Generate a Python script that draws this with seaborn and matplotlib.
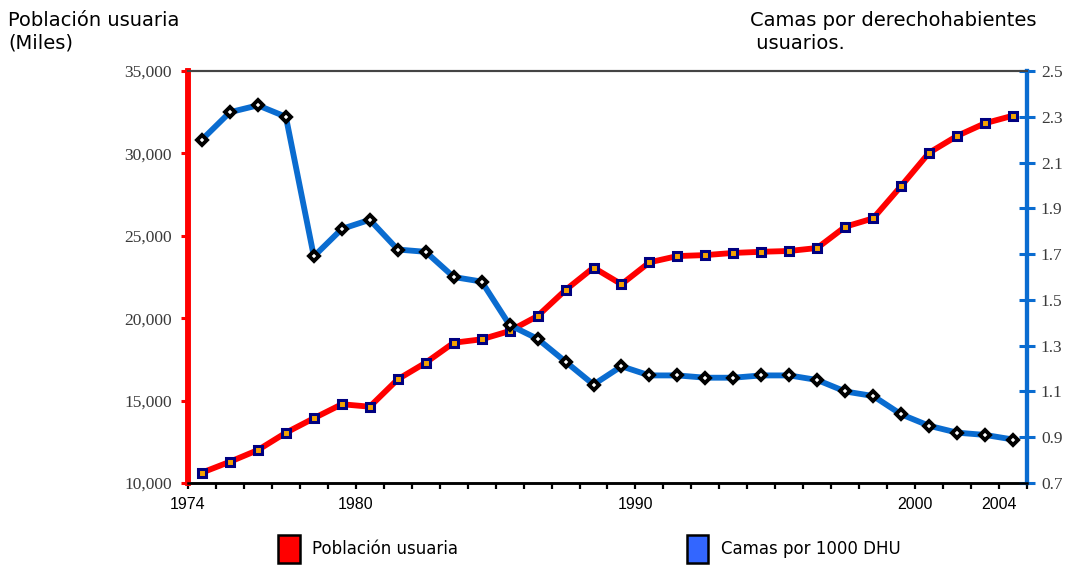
import numpy as np
import pandas as pd
import seaborn as sns
import matplotlib.pyplot as plt
from matplotlib.patches import Patch

# Data
years = list(range(1974, 2004))
poblacion = [10630, 11290, 12000, 13050, 13930, 14780, 14630, 16290, 17300, 18510,
             18720, 19220, 20130, 21710, 23070, 22060, 23390, 23770, 23830, 23960,
             24030, 24080, 24260, 25550, 26060, 28020, 30040, 31060, 31830, 32290]
camas = [2.20, 2.32, 2.35, 2.30, 1.69, 1.81, 1.85, 1.72, 1.71, 1.60,
         1.58, 1.39, 1.33, 1.23, 1.13, 1.21, 1.17, 1.17, 1.16, 1.16,
         1.17, 1.17, 1.15, 1.10, 1.08, 1.00, 0.95, 0.92, 0.91, 0.89]
year_labels = ['1974', '1980', '1990', '2000', '2004']
label_pos = [1973.5, 1979.5, 1989.5, 1999.5, 2002.5]

df = pd.DataFrame({'year': years, 'poblacion': poblacion, 'camas': camas})

sns.set_style('white')
plt.rcParams['font.family'] = ['Liberation Sans', 'DejaVu Sans']
plt.rcParams['text.color'] = 'black'

fig = plt.figure(figsize=(10.70, 5.69), dpi=100)
ax = fig.add_axes([188 / 1070, 1 - 483 / 569, (1027 - 188) / 1070, (483 - 71) / 569])
ax2 = ax.twinx()

red = '#ff0000'
blue = '#0a6cd0'

sns.lineplot(data=df, x='year', y='poblacion', ax=ax, color=red, linewidth=4.2,
             marker='s', markersize=5.5, markerfacecolor='#f5a300',
             markeredgecolor='#000080', markeredgewidth=2.2, zorder=3)
sns.lineplot(data=df, x='year', y='camas', ax=ax2, color=blue, linewidth=4.2,
             marker='D', markersize=5.5, markerfacecolor='white',
             markeredgecolor='black', markeredgewidth=2.8, zorder=3)

serif = dict(family='Liberation Serif', fontsize=12.5, color='#3a3a3a')

# x axis
ax.set_xlim(1973.5, 2003.5)
ax.set_xticks(label_pos)
ax.set_xticklabels(year_labels, family='Liberation Sans', fontsize=11.5, color='black')
ax.set_xticks(np.arange(1973.5, 2004, 1), minor=True)
ax.tick_params(axis='x', which='both', direction='out', length=4, width=1.6,
               color='black', pad=6, bottom=True)

# left axis
ax.set_ylim(10000, 35000)
ax.set_yticks(np.arange(10000, 35001, 5000))
ax.set_yticklabels([f'{v:,}' for v in range(10000, 35001, 5000)], **serif)
ax.tick_params(axis='y', direction='out', length=5, width=2.2, color=red, pad=6.5, left=True)
ax.set_xlabel('')
ax.set_ylabel('')

# right axis
ax2.set_ylim(0.7, 2.5)
ax2.set_yticks(np.arange(0.7, 2.51, 0.2))
ax2.set_yticklabels([f'{v:.1f}' for v in np.arange(0.7, 2.51, 0.2)], **serif)
ax2.tick_params(axis='y', direction='inout', length=11, width=2.2, color=blue, pad=4.5, right=True)
ax2.set_ylabel('')

for a in (ax, ax2):
    a.spines['left'].set_color(red)
    a.spines['left'].set_linewidth(4)
    a.spines['right'].set_color(blue)
    a.spines['right'].set_linewidth(3)
    a.spines['top'].set_color('#444444')
    a.spines['top'].set_linewidth(1.5)
    a.spines['bottom'].set_color('black')
    a.spines['bottom'].set_linewidth(1.8)
    a.grid(False)
ax.set_zorder(1)
ax2.set_zorder(2)
ax2.patch.set_visible(False)

# titles of the two axes
fig.text(8 / 1070, 1 - 11 / 569, 'Población usuaria\n(Miles)', ha='left', va='top',
         family='DejaVu Sans', fontsize=14, linespacing=1.25, color='black')
fig.text(750 / 1070, 1 - 11 / 569, 'Camas por derechohabientes\n usuarios.', ha='left', va='top',
         family='DejaVu Sans', fontsize=14, linespacing=1.25, color='black')

# legend
handles = [Patch(facecolor=red, edgecolor='black', linewidth=1.8),
           Patch(facecolor='#3366ff', edgecolor='black', linewidth=1.8)]
leg = fig.legend(handles, ['Población usuaria', 'Camas por 1000 DHU'], ncol=2,
                 loc='center left', bbox_to_anchor=(278 / 1070, 1 - 549 / 569),
                 frameon=False, prop={'family': 'DejaVu Sans', 'size': 12},
                 handlelength=1.3, handleheight=2.2,
                 handletextpad=0.75, columnspacing=13.7, borderpad=0, borderaxespad=0)
for t in leg.get_texts():
    t.set_color('black')

fig.savefig('out.png', dpi=100)
